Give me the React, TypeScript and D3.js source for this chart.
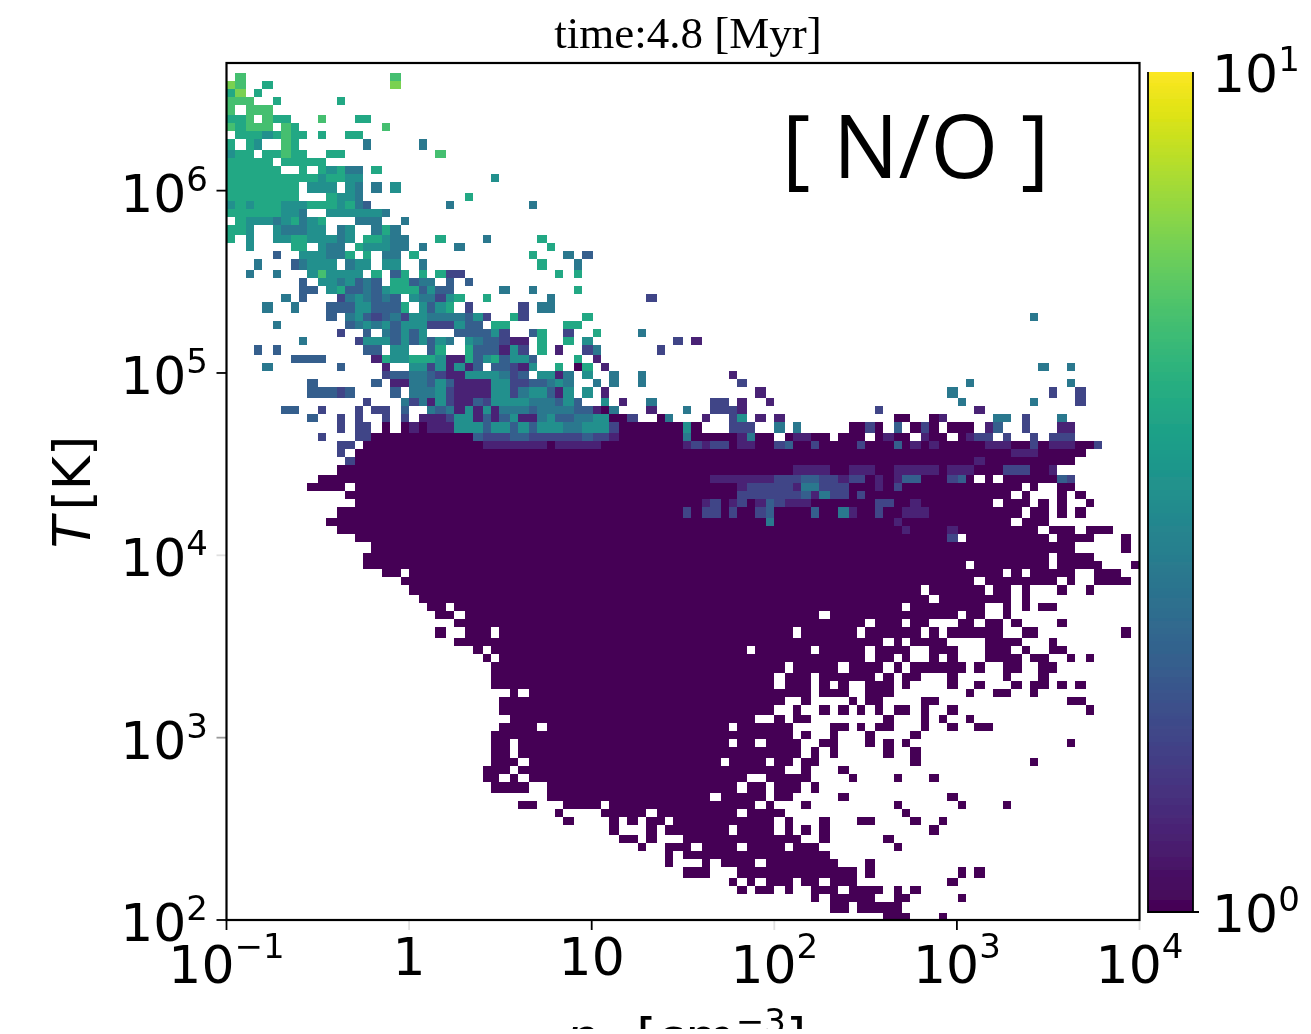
import React from "react";
import * as d3 from "d3";

// density axis (cm^-3) and temperature axis (K)
const densityDomain = [0.1, 1e4];
const temperatureDomain = [1e2, Math.pow(10, 6.7)];
const densityTicks = [0.1, 1, 10, 100, 1000, 10000];
const densityTickLabels = [["10", "\u22121"], ["1", ""], ["10", ""], ["10", "2"], ["10", "3"], ["10", "4"]];
const densityTickAlpha = [1, 0.12, 1, 0.12, 1, 0.12];
const temperatureTicks = [1e2, 1e3, 1e4, 1e5, 1e6];
const temperatureTickLabels = [["10", "2"], ["10", "3"], ["10", "4"], ["10", "5"], ["10", "6"]];
const temperatureTickAlpha = [1, 0.4, 0.12, 1, 1];
const ratioDomain = [1, 10];
const ratioTicks = [10, 1];
const ratioTickLabels = [["10", "1"], ["10", "0"]];
const binCount = 100;

// [row from the bottom, cells]. "a-b" or "a" = ratio 1 over those columns,
// "a:ddd" = cells from column a, each digit is 10 * log10([N/O]). Later tokens override.
const cellRows: [number, string][] = [
  [98, "1:7 18:7"],
  [97, "0:87 4:6 18:8"],
  [96, "0:68 3:6"],
  [95, "0:777 5:6 12:6"],
  [94, "0:7 2:777"],
  [93, "0:667 4:766 10:7 14:66"],
  [92, "0:76777 6:76 17:7"],
  [91, "1:66656766 10:6 13:66"],
  [90, "0:6 2:65 6:76 15:4 21:4"],
  [89, "0:566 4:66766 11:66 23:7"],
  [88, "0:66666 6:66666"],
  [87, "0:666666 8:6 10:65644 16:6"],
  [86, "0:666666666656655 29:5"],
  [85, "0:66666666 9:555 13:54 16:4 18:5"],
  [84, "0:66666666 11:6554 26:6"],
  [83, "0:5656665556665643 24:4 33:4"],
  [82, "0:666666554 11:5555554"],
  [81, "1:6555456456 14:444 19:4"],
  [80, "0:665 5:544455 12:45 16:464"],
  [79, "0:6 2:5 5:556655545 15:66544 23:6 28:4 34:6"],
  [78, "2:5 7:66 10:544 14:655544 21:4 25:4 35:6"],
  [77, "5:3 8:555446 15:6 17:44 20:6 33:6 37:4 39:3"],
  [76, "3:4 7:34555 13:455 17:55 21:4 34:6 38:4"],
  [75, "2:4 5:4 9:575555 16:6 18:36 21:6 23:622 36:6 38:6"],
  [74, "8:3 10:5545343 18:66344 24:3 26:3"],
  [73, "8:33 11:56334356663533 30:4 33:4 38:6"],
  [72, "6:4 8:3 12:2454343 20:544256 28:6 35:4 46:2"],
  [71, "4:4 7:4 11:333553336 21:5356 26:2 32:2 34:44"],
  [70, "11:3 13:4532342554444352 31:62 39:6 88:4"],
  [69, "5:4 13:345453555222533 29:66 37:66"],
  [68, "12:2 15:3 17:43535 25:333352 33:36 37:2 40:6 45:4"],
  [67, "8:4 14:25553535354 26:5433211 34:6 37:6 39:5 49:2 51:1"],
  [66, "3:3 5:3 15:33 18:55 22:36 26:6333152 34:6 36:1 39:24 47:2"],
  [65, "7:3333 16:165566651163563553 38:6 40:1"],
  [64, "4:4 12:3 17:1 20:55251513 29:33215 36:6 38:06 41:1 89:4 92:4"],
  [63, "17:2334432115555423 34:5514 39:5 42:4 45:4 55:1"],
  [62, "9:3 16:3 18:11443531111552233454 40:4 42:4 45:4 56:2 81:4 92:4"],
  [61, "9:33323 18:3 20:444521111552455315 39:5 41:1 58:1 79:4 90:2 93:2"],
  [60, "15:2 19:42415211325555444353 41:5 43:1 46:4 53:22 56:1 59:1 80:4 88:4 93:2"],
  [59, "6:33 10:2 14:2 16:22 19:3 22:434151514443444433104 46:1 50:4 53:2221 71:2 82:1"],
  [58, "9:3 12:2 14:2 17:2 19:2 21:111255131351145334455002 47:04 52:1 55:25 58:1 60:1 73:00 77:01 84:44 87:2 91:4"],
  [57, "12:2 14:22 17 19:010111555355353555445552 43-49 50:50 55:222 60:4 62:4 68:00 70:20 73:3 75:020 79-81 83:13 87:2 91:11"],
  [56, "10:2 14:22 16-49 27:3222332222223221 50:4 51-55 56:14 58-59 61:01100 67-69 71:01 73-74 76:1 77-78 80:01 82:22 85:2 88:2 90:222"],
  [55, "12:22 15-95 28:1111111 36:11111 50:12122 56:11 60:23 64:2 69:2 73:3 75:1 77:1 83:111 88:2 90:111 95:2"],
  [54, "12:2 14-93 86:111"],
  [53, "13:2 14-92 82:1"],
  [52, "12-90 62:1111 68:111 73:11111 79:111 85:222 90:1"],
  [51, "10-81 83 85-92 53:1111111 60:2223322122 71:1 73:133 79:23 91:32"],
  [50, "9-12 14-86 88 91-92 56:122222 62:1 63:44 65:222 71:1 73:2"],
  [49, "13-85 87 91 93 56:2222222 63:31422 69:2"],
  [48, "14-83 85-87 89 91 94 52:12 55:12 58:132111 71:22 75:1"],
  [47, "12-86 88-89 91 93 50:2 52:22 55:2 58:23 64:3 67:41 71:2 74:111"],
  [46, "11-85 87-89 59:4 73:1"],
  [45, "12-88 90-92 94-96 74:1 79:1"],
  [44, "14-79 79:2 81-89 91-94 98"],
  [43, "16-92 98"],
  [42, "15-89 91-94"],
  [41, "15-80 82-89 91-95 99"],
  [40, "17-18 20-84 86 88-92 95-97"],
  [39, "19-81 83-90 92 95-98"],
  [38, "20-75 77-82 84-85 87 91 94"],
  [37, "21-76 78-85 87"],
  [36, "22-23 25-73 75-82 85 87 89-90"],
  [35, "23-24 26-64 66-79 81-82 85"],
  [34, "25-69 71-73 75-76 80-81 83-84 86 91"],
  [33, "23 26-28 30-61 63-68 70-75 77 79-84 87-88 98"],
  [32, "25-71 73 75-78 83-86 90"],
  [31, "27 29-56 58-63 65-69 71-74 77-79 83-85 87 90-91"],
  [30, "28 30-69 71-72 74 77 79 83-86 88-89 92 94"],
  [29, "29-60 62-66 68-71 73 75-80 82 85-86 89-90"],
  [28, "29-59 61-63 65-70 72 74-75 79 85 89"],
  [27, "29-59 61-63 65 67 70-72 74 79 82 86 88-89 91 93"],
  [26, "31 33-63 65-67 70-72 81 84-85 88"],
  [25, "30-60 63 68 70-71 76-77 92-93"],
  [24, "30-59 62 65 67 69 71 73-74 76 79 94"],
  [23, "31-57 60 62-63 72 76 78 81"],
  [22, "30-33 35-54 56-61 66-67 69 71-72 76 79 82-83"],
  [21, "29-61 63 66 70 75"],
  [20, "29-30 32-54 56-57 59-62 65-66 70 72 74 92"],
  [19, "29-30 32-62 64 66 72 75"],
  [18, "29-31 33-53 55-58 60-61 63-64 75 88"],
  [17, "28-30 32-60 63 67"],
  [16, "28-29 31 33-56 59-63 68 73 77"],
  [15, "29-32 35-55 57-58 60-62 64"],
  [14, "35-52 54-58 60-61 67 79"],
  [13, "32-33 37-40 42-57 59 63 73 80 85"],
  [12, "36 41-45 47-55 57-60 74"],
  [11, "37 42 44 46-47 49-59 61 65 69-70 75 78"],
  [10, "42 46 48-54 56-59 61 63 65 77"],
  [9, "43-44 46 50-62 65 72"],
  [8, "45 48-50 52-55 57-60 62-64 73"],
  [7, "48 50-65"],
  [6, "48 52 54-57 59-66 70"],
  [5, "50-52 56-68 70 80 82"],
  [4, "55 57 59-61 63-64 66-68 79"],
  [3, "56 58-59 61 64-66 68-71 73 75"],
  [2, "64 66-70 73-74 80"],
  [1, "66-67 69-73"],
  [0, "72-74 78"],
];

const width = 1311;
const height = 1029;
const plot = { left: 226.5, right: 1139.5, top: 63, bottom: 920 };
const bar = { left: 1148, right: 1193, top: 72, bottom: 912 };
const ink = "#000";
const sansFont = "'DejaVu Sans', sans-serif";

const x = d3.scaleLog().domain(densityDomain).range([plot.left, plot.right]);
const y = d3.scaleLog().domain(temperatureDomain).range([plot.bottom, plot.top]);
const color = d3.scaleSequentialLog(d3.interpolateViridis).domain(ratioDomain);
const barY = d3.scaleLog().domain(ratioDomain).range([bar.bottom, bar.top]);

// the source picture was a low-res bitmap, so cell edges sit on a 8/3 px grid
const px = 8 / 3;
const snap = (v: number) => Math.round((v - 0.67) / px) * px + 0.67;

const xEdge = d3.scaleLinear().domain([0, binCount]).range(densityDomain.map(Math.log10));
const yEdge = d3.scaleLinear().domain([0, binCount]).range(temperatureDomain.map(Math.log10));

function parseRow(text: string) {
  const levels = new Map<number, number>();
  text.split(" ").forEach((token) => {
    if (token.includes(":")) {
      const [start, digits] = token.split(":");
      digits.split("").forEach((d, i) => levels.set(+start + i, +d));
    } else {
      const [a, b] = token.split("-").map(Number);
      for (let c = a; c <= (b ?? a); c++) levels.set(c, 0);
    }
  });
  return levels;
}

const cells = cellRows.flatMap(([row, text]) =>
  Array.from(parseRow(text), ([col, level]) => ({ row, col, value: Math.pow(10, level / 10) }))
);

const barSteps = d3.range(0, 256).map((i) => Math.pow(10, i / 256));

const Power = ({ label, supDy, ...rest }: any) => (
  <text fontFamily={sansFont} fontSize={52} fill={ink} {...rest}>
    {label[0]}
    {label[1] && (
      <tspan fontSize={34} dy={supDy}>
        {label[1]}
      </tspan>
    )}
  </text>
);

export default function App() {
  return (
    <svg
      width={width}
      height={height}
      style={{ position: "absolute", left: 0, top: 0, display: "block" }}
    >
      <defs>
        <filter id="soft" filterUnits="userSpaceOnUse" x={0} y={0} width={width} height={height}>
          <feGaussianBlur stdDeviation={0.7} />
        </filter>
      </defs>
      <rect width={width} height={height} fill="#fff" />
      <g filter="url(#soft)">
        <g shapeRendering="crispEdges">
          {cells.map((d) => {
            const x0 = snap(x(Math.pow(10, xEdge(d.col))));
            const x1 = snap(x(Math.pow(10, xEdge(d.col + 1))));
            const y0 = snap(y(Math.pow(10, yEdge(d.row + 1))));
            const y1 = snap(y(Math.pow(10, yEdge(d.row))));
            return (
              <rect
                key={`${d.row}-${d.col}`}
                x={x0}
                y={y0}
                width={x1 - x0}
                height={y1 - y0}
                fill={color(d.value)}
              />
            );
          })}
        </g>

        <rect
          x={plot.left}
          y={plot.top}
          width={plot.right - plot.left}
          height={plot.bottom - plot.top}
          fill="none"
          stroke={ink}
          strokeWidth={2.2}
        />

        {densityTicks.map((t, i) => (
          <g key={t}>
            <line
              x1={x(t)}
              x2={x(t)}
              y1={plot.bottom}
              y2={plot.bottom + 10}
              stroke={ink}
              strokeWidth={1.8}
              opacity={densityTickAlpha[i]}
            />
            <Power
              label={densityTickLabels[i]}
              supDy={-25}
              x={x(t)}
              y={densityTickLabels[i][1] ? 983 : 975}
              textAnchor="middle"
            />
          </g>
        ))}

        {temperatureTicks.map((t, i) => (
          <g key={t}>
            <line
              x1={plot.left - 10}
              x2={plot.left}
              y1={y(t)}
              y2={y(t)}
              stroke={ink}
              strokeWidth={1.8}
              opacity={temperatureTickAlpha[i]}
            />
            <Power label={temperatureTickLabels[i]} supDy={-21} x={208} y={y(t) + 21} textAnchor="end" />
          </g>
        ))}

        <text
          transform="translate(90,492) rotate(-90)"
          textAnchor="middle"
          fontFamily={sansFont}
          fontSize={52}
          fill={ink}
        >
          <tspan fontStyle="italic">T</tspan>
          <tspan dx={6}>[K]</tspan>
        </text>

        <text x={686} y={1055} textAnchor="middle" fontFamily={sansFont} fontSize={52} fill={ink}>
          <tspan fontStyle="italic">n</tspan>
          <tspan fontSize={34} dy={8}>H</tspan>
          <tspan dy={-8} dx={12}>[cm</tspan>
          <tspan fontSize={34} dy={-22}>{"\u22123"}</tspan>
          <tspan dy={22}>]</tspan>
        </text>

        <text
          x={688}
          y={48}
          textAnchor="middle"
          fontFamily="'Liberation Serif', serif"
          fontSize={45}
          fill={ink}
        >
          time:4.8 [Myr]
        </text>

        <text x={782} y={178} fontFamily="'Open Sans', sans-serif" fontSize={87} fill="#000">
          [ N/O ]
        </text>

        <g shapeRendering="crispEdges">
          {barSteps.map((v, i) => {
            const next = i + 1 < barSteps.length ? barSteps[i + 1] : ratioDomain[1];
            return (
              <rect
                key={v}
                x={bar.left}
                y={barY(next)}
                width={bar.right - bar.left}
                height={barY(v) - barY(next) + 1}
                fill={color(v)}
              />
            );
          })}
        </g>
        <path
          d={`M${bar.left},${bar.top}V${bar.bottom}H${bar.right + 6}M${bar.right},${bar.bottom}V${bar.top}`}
          fill="none"
          stroke={ink}
          strokeWidth={1.8}
        />
        {ratioTicks.map((t, i) => (
          <Power key={t} label={ratioTickLabels[i]} supDy={-21} x={1212} y={barY(t) + 20} />
        ))}
      </g>
    </svg>
  );
}
